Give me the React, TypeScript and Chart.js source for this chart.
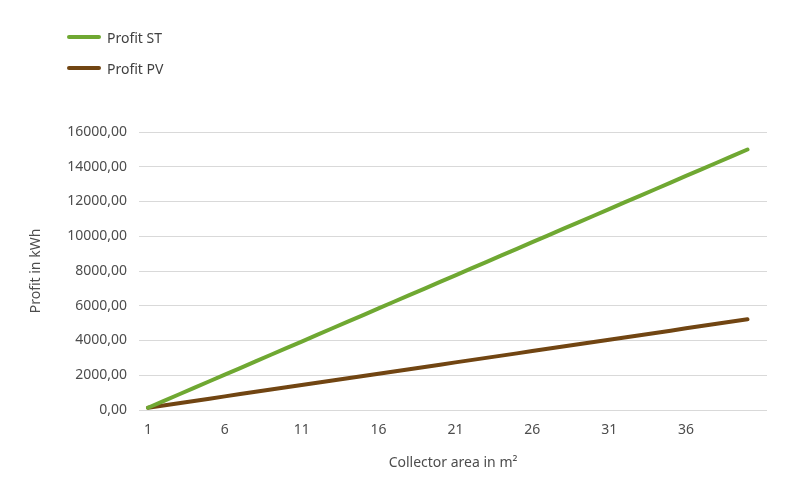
import React, { useEffect, useRef } from "react";
import { Chart, registerables } from "chart.js";

Chart.register(...registerables);

const areas = [1,2,3,4,5,6,7,8,9,10,11,12,13,14,15,16,17,18,19,20,21,22,23,24,25,26,27,28,29,30,31,32,33,34,35,36,37,38,39,40];
const profitST = [130,510,890,1275,1655,2035,2415,2800,3180,3560,3940,4320,4705,5085,5465,5845,6230,6610,6990,7370,7750,8135,8515,8895,9275,9660,10040,10420,10800,11180,11565,11945,12325,12705,13090,13470,13850,14230,14610,14995];
const profitPV = [130,260,390,520,650,785,915,1045,1175,1305,1435,1565,1695,1825,1955,2090,2220,2350,2480,2610,2740,2870,3000,3130,3260,3395,3525,3655,3785,3915,4045,4175,4305,4435,4565,4700,4830,4960,5090,5220];
const xTickValues = [1, 6, 11, 16, 21, 26, 31, 36];
const seriesNames = ["Profit ST", "Profit PV"];
const seriesColors = ["#6fa832", "#714512"];
const xTitle = "Collector area in m²";
const yTitle = "Profit in kWh";

const FONT = "'Noto Sans', sans-serif";

export default function App() {
  const ref = useRef<HTMLCanvasElement | null>(null);
  useEffect(() => {
    if (!ref.current) return;
    const chart = new Chart(ref.current, {
      type: "line",
      data: {
        datasets: [
          {
            label: seriesNames[0],
            data: areas.map((a, i) => ({ x: a, y: profitST[i] })),
            borderColor: seriesColors[0],
            backgroundColor: seriesColors[0],
            borderWidth: 4,
            pointRadius: 0,
            tension: 0,
            borderCapStyle: "round",
          },
          {
            label: seriesNames[1],
            data: areas.map((a, i) => ({ x: a, y: profitPV[i] })),
            borderColor: seriesColors[1],
            backgroundColor: seriesColors[1],
            borderWidth: 4,
            pointRadius: 0,
            tension: 0,
            borderCapStyle: "round",
          },
        ],
      },
      options: {
        animation: false,
        responsive: false,
        maintainAspectRatio: false,
        layout: { padding: { top: 132, right: 33, bottom: 25, left: 25 } },
        plugins: { legend: { display: false }, tooltip: { enabled: false } },
        scales: {
          x: {
            type: "linear",
            min: 0.415,
            max: 41.27,
            afterBuildTicks: (axis: any) => {
              axis.ticks = xTickValues.map((v) => ({ value: v }));
            },
            afterFit: (axis: any) => {
              axis.height = 65;
            },
            grid: { display: false, drawTicks: false },
            border: { display: false },
            ticks: {
              padding: 12,
              color: "#4d4d4d",
              font: { family: FONT, size: 14 },
              callback: (v: any) => String(v),
              maxRotation: 0,
            },
            title: {
              display: true,
              text: xTitle,
              color: "#4d4d4d",
              font: { family: FONT, size: 14 },
              padding: { top: 4, bottom: 4 },
            },
          },
          y: {
            min: 0,
            max: 16000,
            afterBuildTicks: (axis: any) => {
              const t = [];
              for (let v = 0; v <= 16000; v += 2000) t.push({ value: v });
              axis.ticks = t;
            },
            afterFit: (axis: any) => {
              axis.width = 114;
            },
            grid: { color: "#d9d9d9", lineWidth: 1, drawTicks: false },
            border: { display: false },
            ticks: {
              padding: 12,
              color: "#4d4d4d",
              font: { family: FONT, size: 14 },
              callback: (v: any) => Number(v).toFixed(2).replace(".", ","),
            },
            title: {
              display: true,
              text: yTitle,
              color: "#4d4d4d",
              font: { family: FONT, size: 14 },
              padding: { top: 3, bottom: 3 },
            },
          },
        },
      },
    });
    return () => chart.destroy();
  }, []);

  return (
    <div style={{ position: "fixed", left: 0, top: 0, width: 800, height: 500, background: "#fff" }}>
      <canvas ref={ref} width={800} height={500} style={{ position: "absolute", left: 0, top: 0 }} />
      {seriesNames.map((name, i) => (
        <div
          key={name}
          style={{
            position: "absolute",
            left: 67,
            top: 28 + i * 31,
            height: 18,
            display: "flex",
            alignItems: "center",
            fontFamily: FONT,
            fontSize: 14,
            color: "#404040",
          }}
        >
          <span
            style={{
              display: "inline-block",
              width: 34,
              height: 4,
              borderRadius: 2,
              background: seriesColors[i],
              marginRight: 6,
            }}
          />
          {name}
        </div>
      ))}
    </div>
  );
}
